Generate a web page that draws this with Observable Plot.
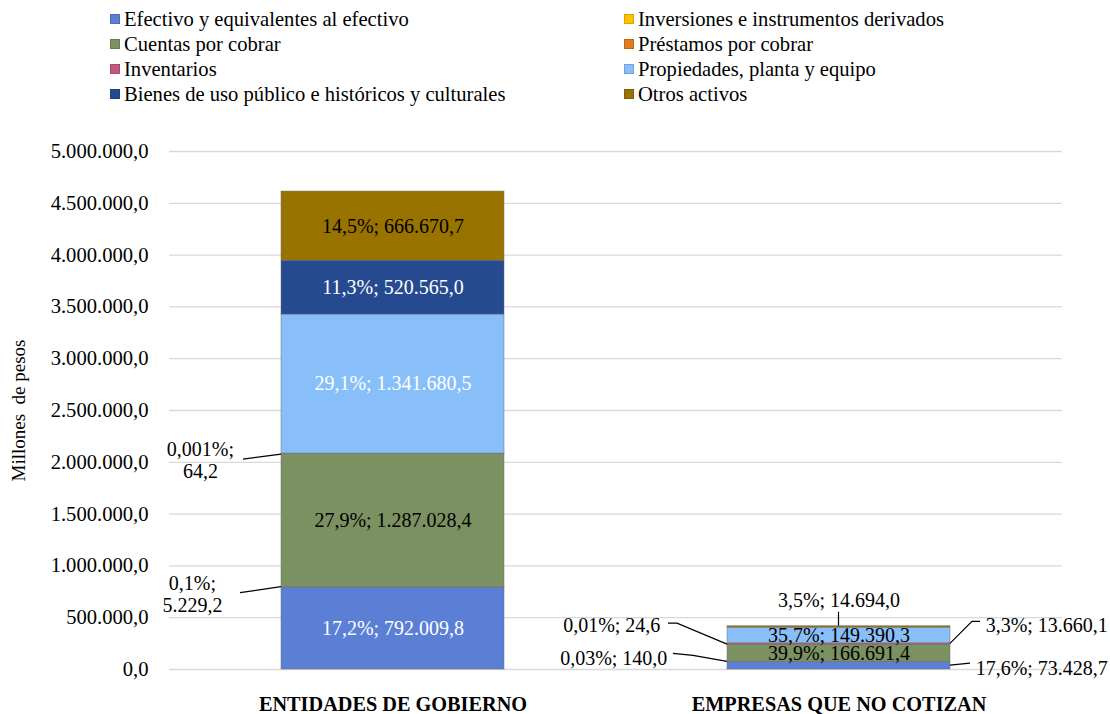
<!DOCTYPE html>
<html><head><meta charset="utf-8">
<script src="https://cdn.jsdelivr.net/npm/d3@7"></script>
<script src="https://cdn.jsdelivr.net/npm/@observablehq/plot@0.6"></script>
<style>
body{margin:0;background:#fff;font-family:'Liberation Serif',serif;}
#legend{position:relative;width:1110px;height:110px;font-family:'Liberation Serif',serif;}
.li{position:absolute;display:flex;align-items:center;font-size:20.6px;white-space:nowrap;line-height:1;color:#000;font-family:'Liberation Serif',serif;}
.sw{width:10px;height:10px;margin-right:4px;box-sizing:border-box;border:1px solid rgba(0,0,0,0.15);}
#chart svg{display:block;}
#chart svg text{font-family:'Liberation Serif',serif;}
</style></head><body>
<div id="legend"></div><div id="chart"></div>
<script>
// ---- data ----
const categories = ["ENTIDADES DE GOBIERNO", "EMPRESAS QUE NO COTIZAN"];
const series = [
  "Efectivo y equivalentes al efectivo",
  "Inversiones e instrumentos derivados",
  "Cuentas por cobrar",
  "Préstamos por cobrar",
  "Inventarios",
  "Propiedades, planta y equipo",
  "Bienes de uso público e históricos y culturales",
  "Otros activos"
];
const gobiernoValues = [792009.8, 5229.2, 1287028.4, 64.2, 0, 1341680.5, 520565.0, 666670.7];
const empresasValues = [73428.7, 140.0, 166691.4, 24.6, 13660.1, 149390.3, 0, 14694.0];
const gobiernoPct = ["17,2%", "0,1%", "27,9%", "0,001%", "", "29,1%", "11,3%", "14,5%"];
const empresasPct = ["17,6%", "0,03%", "39,9%", "0,01%", "3,3%", "35,7%", "", "3,5%"];
const yTicks = [0, 500000, 1000000, 1500000, 2000000, 2500000, 3000000, 3500000, 4000000, 4500000, 5000000];
const yLabel = "Millones\u00a0 de pesos";

// ---- styles ----
const FONT = "'Liberation Serif', serif";
const colors = ["#5b7fd5", "#ffc000", "#7b9161", "#e07c1f", "#c15a7c", "#88bff8", "#254a8f", "#997300"];
const whiteLabels = new Set(["0-0", "0-5", "0-6"]);
const insideLabels = new Set(["0-0", "0-2", "0-5", "0-6", "0-7", "1-2", "1-5"]);
const callouts = [
  {c:0, s:3, side:"left",  dx:-81, dy:6,   anchor:"middle", wrap:true, path:[[-38,6],[0,1]]},
  {c:0, s:1, side:"left",  dx:-89, dy:7,   anchor:"middle", wrap:true, path:[[-41,6],[0,0]]},
  {c:1, s:7, side:"top",   dx:0,   dy:-26, anchor:"middle", path:[[0,-14],[0,0]]},
  {c:1, s:3, side:"left",  dx:-67, dy:-20, anchor:"end",    path:[[-59,-21],[-50,-21],[0,0]]},
  {c:1, s:1, side:"left",  dx:-60, dy:-4,  anchor:"end",    path:[[-54,-8],[-34,-6],[0,0]]},
  {c:1, s:4, side:"right", dx:35,  dy:-19, anchor:"start",  path:[[0,0],[22,-22],[30,-22]]},
  {c:1, s:0, side:"right", dx:25,  dy:2,   anchor:"start",  path:[[0,0],[20,-2]]}
];

const loc = d3.formatLocale({decimal: ",", thousands: ".", grouping: [3], currency: ["$", ""]});
const fmt = loc.format(",.1f");

// ---- table ----
const allValues = [gobiernoValues, empresasValues];
const allPct = [gobiernoPct, empresasPct];
const rows = [];
const byKey = {};
categories.forEach((cat, c) => {
  let cum = 0;
  series.forEach((s, i) => {
    const v = allValues[c][i];
    const r = {cat, series: s, key: `${c}-${i}`, value: v, y1: cum, y2: cum + v, mid: cum + v / 2,
               label: `${allPct[c][i]}; ${fmt(v)}`};
    cum += v;
    byKey[r.key] = r;
    if (v > 0) rows.push(r);
  });
});

// ---- legend ----
const legend = d3.select("#legend");
series.forEach((s, i) => {
  const col = i % 2, row = Math.floor(i / 2);
  const item = legend.append("div").attr("class", "li")
    .style("left", (col ? 624 : 110) + "px")
    .style("top", (19 + 25 * row - 10) + "px")
    .style("height", "20px")
    .style("font-family", FONT);
  item.append("div").attr("class", "sw").style("background", colors[i]);
  item.append("span").text(s);
});

// ---- layout ----
const W = 1110, H = 604, mt = 41, mb = 45, ml = 169, mr = 48;
const xs = Plot.scale({x: {type: "band", domain: categories, range: [ml, W - mr], paddingInner: 0.5, paddingOuter: 0.25}});
const bw = xs.bandwidth;

const calloutMarks = callouts.map(co => {
  const r = byKey[`${co.c}-${co.s}`];
  const yv = co.side === "top" ? r.y2 : r.mid;
  const off = co.side === "left" ? -bw / 2 : co.side === "right" ? bw / 2 : 0;
  const txt = co.wrap ? r.label.replace("; ", ";\n") : r.label;
  return Plot.text([r], {x: "cat", y: () => yv, text: () => txt, dx: co.dx + off, dy: co.dy,
    textAnchor: co.anchor, lineAnchor: "middle", lineHeight: 1.1, fill: "#000", fontSize: 20, fontFamily: FONT});
});

const plot = Plot.plot({
  width: W, height: H, marginTop: mt, marginBottom: mb, marginLeft: ml, marginRight: mr,
  style: {fontFamily: FONT, fontSize: "20px", color: "#000", background: "#fff"},
  x: {domain: categories, paddingInner: 0.5, paddingOuter: 0.25, axis: null},
  y: {domain: [0, 5000000], axis: null},
  color: {domain: series, range: colors},
  marks: [
    Plot.gridY(yTicks, {stroke: "#d9d9d9", strokeOpacity: 1, strokeWidth: 1.3}),
    Plot.axisY(yTicks, {tickFormat: fmt, tickSize: 0, tickPadding: 21, label: null, fontSize: 20.6, fontFamily: FONT}),
    Plot.axisX({tickSize: 0, tickPadding: 27, label: null, fontWeight: "bold", fontSize: 20.3, fontFamily: FONT}),
    Plot.text([yLabel], {frameAnchor: "left", textAnchor: "middle", dx: -151, rotate: -90, text: d => d, fontSize: 19, fill: "#000", fontFamily: FONT}),
    Plot.barY(rows, {x: "cat", y1: "y1", y2: "y2", fill: "series", stroke: "#6e6e6e", strokeWidth: 0.8, strokeOpacity: 0.6}),
    Plot.text(rows.filter(r => insideLabels.has(r.key) && !whiteLabels.has(r.key)),
      {x: "cat", y: "mid", text: "label", fill: "#000", fontSize: 20, fontFamily: FONT}),
    Plot.text(rows.filter(r => insideLabels.has(r.key) && whiteLabels.has(r.key)),
      {x: "cat", y: "mid", text: "label", fill: "#fff", fontSize: 20, fontFamily: FONT}),
    ...calloutMarks
  ]
});

// leader lines through the plot's own scales
const sx = plot.scale("x"), sy = plot.scale("y");
const g = d3.select(plot).append("g").attr("fill", "none").attr("stroke", "#000").attr("stroke-width", 1.2);
callouts.forEach(co => {
  const r = byKey[`${co.c}-${co.s}`];
  const x0 = sx.apply(r.cat);
  const px = co.side === "left" ? x0 : co.side === "right" ? x0 + sx.bandwidth : x0 + sx.bandwidth / 2;
  const py = sy.apply(co.side === "top" ? r.y2 : r.mid);
  g.append("path").attr("d", d3.line()(co.path.map(([a, b]) => [px + a, py + b])));
});

document.getElementById("chart").append(plot);
</script>
</body></html>
